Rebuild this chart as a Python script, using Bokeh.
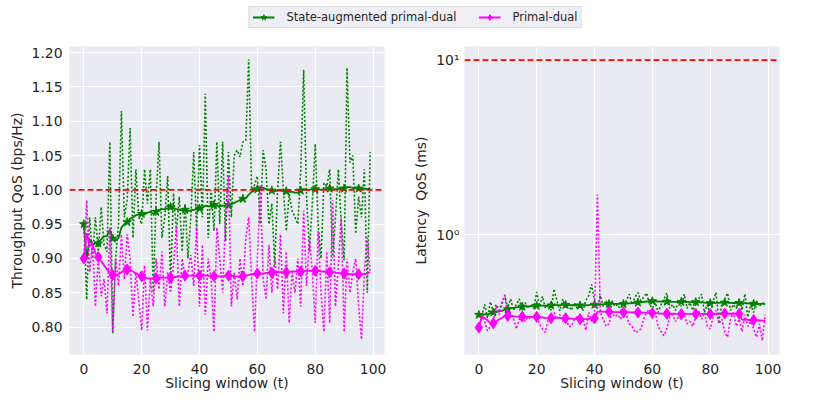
from bokeh.plotting import figure
from bokeh.models import Range1d, FixedTicker, PrintfTickFormatter, Span, Legend, LegendItem
from bokeh.layouts import column, row
from bokeh.embed import file_html
from bokeh.resources import INLINE

# ---------------- data ----------------
t = list(range(100))
marker_t = list(range(0, 100, 5))

thr_sa_raw = [0.95, 0.84, 0.96, 0.90, 0.96, 0.91, 0.975, 0.92, 0.91, 1.07,
              0.79, 0.90, 0.95, 1.115, 0.96, 0.985, 1.09, 0.93, 1.03, 0.96,
              0.95, 1.03, 0.98, 1.03, 0.85, 0.99, 1.07, 0.93, 0.96, 1.02,
              0.865, 0.995, 0.94, 0.99, 0.91, 0.98, 0.90, 0.96, 1.055, 0.94,
              1.065, 0.96, 1.14, 0.93, 1.00, 0.94, 1.07, 0.95, 1.07, 0.925,
              1.055, 0.96, 1.05, 1.058, 1.048, 1.07, 1.072, 1.19, 1.00, 1.007,
              1.02, 0.95, 1.058, 1.03, 0.95, 0.98, 0.89, 1.00, 1.07, 1.00,
              0.94, 0.994, 0.97, 0.96, 0.95, 1.03, 1.175, 0.99, 0.91, 0.98,
              1.067, 0.95, 0.90, 1.01, 1.005, 1.03, 0.90, 0.96, 1.03, 0.95,
              0.897, 1.178, 1.04, 1.05, 0.936, 0.99, 0.96, 1.03, 0.85, 1.055]

thr_sa_avg = [0.950, 0.900, 0.928, 0.920, 0.922, 0.922, 0.928, 0.932, 0.933, 0.942,
              0.929, 0.926, 0.930, 0.945, 0.950, 0.953, 0.958, 0.960, 0.963, 0.964,
              0.965, 0.964, 0.967, 0.968, 0.965, 0.968, 0.971, 0.972, 0.972, 0.973,
              0.975, 0.973, 0.972, 0.971, 0.970, 0.971, 0.969, 0.970, 0.971, 0.972,
              0.973, 0.974, 0.977, 0.976, 0.976, 0.978, 0.977, 0.976, 0.977, 0.977,
              0.978, 0.979, 0.981, 0.983, 0.985, 0.987, 0.988, 0.993, 0.997, 0.999,
              1.001, 1.004, 1.003, 1.001, 1.000, 0.999, 0.998, 0.999, 0.999, 0.998,
              0.998, 0.997, 0.997, 0.996, 0.996, 0.999, 1.001, 1.000, 1.000, 1.001,
              1.001, 1.001, 1.000, 1.001, 1.001, 1.002, 1.001, 1.001, 1.001, 1.002,
              1.002, 1.004, 1.004, 1.003, 1.002, 1.002, 1.002, 1.002, 1.001, 1.002]

thr_pd_raw = [0.900, 0.985, 0.880, 0.925, 0.830, 0.900, 0.845, 0.870, 0.820, 0.945,
              0.793, 0.900, 0.860, 0.935, 0.870, 0.935, 0.900, 0.815, 0.880, 0.840,
              0.795, 0.890, 0.795, 0.870, 0.830, 0.900, 0.855, 0.910, 0.830, 0.880,
              0.850, 0.890, 0.945, 0.830, 0.900, 0.870, 0.880, 0.905, 0.860, 0.945,
              0.830, 0.920, 0.818, 0.900, 0.870, 0.793, 0.945, 0.900, 0.850, 0.960,
              1.020, 0.830, 0.880, 0.840, 0.900, 0.860, 0.930, 0.960, 0.870, 0.793,
              0.900, 1.006, 0.870, 0.840, 0.920, 0.850, 0.900, 0.855, 0.935, 0.820,
              0.910, 0.806, 0.880, 0.850, 0.900, 0.830, 0.970, 0.860, 0.930, 0.880,
              0.806, 0.940, 0.850, 0.793, 0.910, 0.806, 0.985, 0.830, 0.890, 0.960,
              0.793, 0.900, 0.850, 0.880, 0.900, 0.830, 0.782, 0.880, 0.930, 0.880]

thr_pd_avg = [0.900, 0.937, 0.918, 0.921, 0.908, 0.902, 0.896, 0.890, 0.884, 0.879,
              0.876, 0.876, 0.877, 0.880, 0.883, 0.884, 0.883, 0.881, 0.878, 0.876,
              0.874, 0.873, 0.871, 0.871, 0.871, 0.871, 0.872, 0.872, 0.872, 0.872,
              0.872, 0.873, 0.873, 0.874, 0.874, 0.875, 0.875, 0.875, 0.875, 0.875,
              0.875, 0.875, 0.875, 0.875, 0.874, 0.874, 0.874, 0.874, 0.874, 0.875,
              0.875, 0.875, 0.874, 0.874, 0.874, 0.874, 0.875, 0.876, 0.877, 0.877,
              0.878, 0.878, 0.878, 0.879, 0.879, 0.879, 0.879, 0.880, 0.880, 0.880,
              0.880, 0.880, 0.881, 0.881, 0.881, 0.881, 0.881, 0.882, 0.882, 0.882,
              0.882, 0.882, 0.881, 0.881, 0.880, 0.880, 0.880, 0.879, 0.879, 0.878,
              0.878, 0.878, 0.877, 0.877, 0.877, 0.877, 0.877, 0.877, 0.878, 0.880]

lat_sa_raw = [0.35, 0.34, 0.40, 0.335, 0.415, 0.36, 0.40, 0.37, 0.41, 0.45,
              0.38, 0.43, 0.37, 0.40, 0.43, 0.37, 0.41, 0.38, 0.40, 0.38,
              0.47, 0.39, 0.445, 0.38, 0.40, 0.37, 0.49, 0.42, 0.368, 0.43,
              0.38, 0.40, 0.37, 0.41, 0.38, 0.40, 0.37, 0.42, 0.45, 0.52,
              0.42, 0.38, 0.45, 0.39, 0.42, 0.38, 0.42, 0.39, 0.40, 0.37,
              0.37, 0.42, 0.458, 0.40, 0.44, 0.468, 0.42, 0.44, 0.465, 0.40,
              0.38, 0.41, 0.36, 0.40, 0.43, 0.465, 0.38, 0.40, 0.37, 0.42,
              0.39, 0.458, 0.38, 0.41, 0.37, 0.40, 0.43, 0.458, 0.36, 0.40,
              0.345, 0.42, 0.468, 0.32, 0.40, 0.43, 0.465, 0.37, 0.40, 0.38,
              0.41, 0.37, 0.46, 0.338, 0.40, 0.36, 0.42, 0.39, 0.41, 0.40]

lat_sa_avg = [0.349, 0.345, 0.352, 0.350, 0.357, 0.360, 0.362, 0.365, 0.368, 0.374,
              0.376, 0.380, 0.383, 0.385, 0.388, 0.389, 0.390, 0.390, 0.391, 0.391,
              0.393, 0.393, 0.394, 0.394, 0.394, 0.395, 0.397, 0.397, 0.397, 0.398,
              0.398, 0.397, 0.396, 0.396, 0.395, 0.395, 0.395, 0.396, 0.397, 0.399,
              0.399, 0.399, 0.400, 0.401, 0.402, 0.403, 0.403, 0.403, 0.403, 0.403,
              0.403, 0.404, 0.406, 0.407, 0.409, 0.410, 0.412, 0.414, 0.416, 0.417,
              0.418, 0.417, 0.416, 0.415, 0.415, 0.415, 0.414, 0.414, 0.414, 0.414,
              0.414, 0.414, 0.414, 0.413, 0.413, 0.413, 0.412, 0.411, 0.410, 0.408,
              0.407, 0.408, 0.409, 0.409, 0.410, 0.410, 0.410, 0.409, 0.408, 0.408,
              0.408, 0.407, 0.407, 0.406, 0.405, 0.404, 0.404, 0.403, 0.403, 0.403]

lat_pd_raw = [0.29, 0.345, 0.32, 0.283, 0.30, 0.32, 0.39, 0.35, 0.40, 0.455,
              0.33, 0.36, 0.331, 0.29, 0.33, 0.35, 0.32, 0.34, 0.33, 0.35,
              0.34, 0.31, 0.29, 0.277, 0.33, 0.35, 0.36, 0.33, 0.35, 0.32,
              0.34, 0.30, 0.30, 0.33, 0.34, 0.31, 0.33, 0.285, 0.36, 0.32,
              0.35, 1.70, 0.36, 0.33, 0.30, 0.31, 0.36, 0.34, 0.35, 0.33,
              0.36, 0.35, 0.31, 0.30, 0.277, 0.28, 0.29, 0.33, 0.36, 0.375,
              0.34, 0.36, 0.30, 0.28, 0.265, 0.29, 0.34, 0.35, 0.32, 0.34,
              0.33, 0.35, 0.31, 0.32, 0.30, 0.34, 0.37, 0.33, 0.36, 0.30,
              0.29, 0.34, 0.37, 0.31, 0.33, 0.28, 0.26, 0.33, 0.36, 0.30,
              0.33, 0.28, 0.35, 0.30, 0.32, 0.29, 0.26, 0.31, 0.248, 0.35]

lat_pd_avg = [0.295, 0.340, 0.335, 0.325, 0.312, 0.312, 0.320, 0.328, 0.335, 0.345,
              0.344, 0.343, 0.342, 0.341, 0.341, 0.341, 0.340, 0.340, 0.340, 0.340,
              0.340, 0.339, 0.337, 0.335, 0.334, 0.334, 0.335, 0.335, 0.335, 0.335,
              0.334, 0.333, 0.332, 0.331, 0.330, 0.330, 0.330, 0.330, 0.331, 0.332,
              0.333, 0.363, 0.364, 0.364, 0.363, 0.363, 0.363, 0.362, 0.362, 0.361,
              0.361, 0.361, 0.361, 0.360, 0.360, 0.360, 0.359, 0.359, 0.358, 0.358,
              0.357, 0.357, 0.356, 0.355, 0.354, 0.354, 0.354, 0.354, 0.353, 0.353,
              0.353, 0.353, 0.353, 0.353, 0.353, 0.353, 0.353, 0.353, 0.353, 0.353,
              0.353, 0.353, 0.354, 0.354, 0.354, 0.355, 0.354, 0.354, 0.354, 0.354,
              0.354, 0.328, 0.327, 0.327, 0.326, 0.326, 0.325, 0.324, 0.323, 0.323]

thr_threshold = 1.0
lat_threshold = 10.0

x_ticks = [0, 20, 40, 60, 80, 100]
thr_ticks = [0.80, 0.85, 0.90, 0.95, 1.00, 1.05, 1.10, 1.15, 1.20]
lat_ticks = [1, 10]
lat_tick_labels = {1: "10\u2070", 10: "10\u00b9"}

series_names = ["State-augmented primal-dual", "Primal-dual"]
GREEN = "#008000"
MAGENTA = "#FF00FF"

FONT = "DejaVu Sans"
TXT = "#262626"


def style(p):
    p.background_fill_color = "#EAEAF2"
    p.border_fill_color = "white"
    p.outline_line_color = None
    for ax in p.axis:
        ax.axis_line_color = None
        ax.major_tick_line_color = None
        ax.minor_tick_line_color = None
        ax.major_tick_out = 0
        ax.major_tick_in = 0
        ax.minor_tick_out = 0
        ax.minor_tick_in = 0
        ax.major_label_text_font = FONT
        ax.major_label_text_font_size = "13.9px"
        ax.major_label_text_color = TXT
        ax.axis_label_text_font = FONT
        ax.axis_label_text_font_size = "13.9px"
        ax.axis_label_text_font_style = "normal"
        ax.axis_label_text_color = TXT
    p.grid.grid_line_color = "white"
    p.grid.grid_line_width = 1.2


def draw(p, y_sa_raw, y_sa_avg, y_pd_raw, y_pd_avg):
    p.line(t, y_sa_raw, line_color=GREEN, line_width=1.6, line_dash="2 2")
    p.line(t, y_sa_avg, line_color=GREEN, line_width=1.8)
    p.scatter(marker_t, [y_sa_avg[i] for i in marker_t], marker="star", size=9,
              fill_color=GREEN, line_color=GREEN)
    p.line(t, y_pd_raw, line_color=MAGENTA, line_width=1.6, line_dash="2 2")
    p.line(t, y_pd_avg, line_color=MAGENTA, line_width=1.8)
    p.scatter(marker_t, [y_pd_avg[i] for i in marker_t], marker="diamond", size=11,
              fill_color=MAGENTA, line_color=MAGENTA)


# ---------------- left: throughput ----------------
p1 = figure(frame_width=315, frame_height=308, output_backend="svg", toolbar_location=None,
            x_range=Range1d(-4.95, 103.95), y_range=Range1d(0.760, 1.209),
            min_border_left=69, min_border_right=24, min_border_top=8, min_border_bottom=50)
style(p1)
xt1 = FixedTicker(ticks=x_ticks)
yt1 = FixedTicker(ticks=thr_ticks)
p1.xaxis.ticker = xt1
p1.xgrid.ticker = xt1
p1.yaxis.ticker = yt1
p1.ygrid.ticker = yt1
p1.yaxis.formatter = PrintfTickFormatter(format="%.2f")
p1.xaxis.axis_label = "Slicing window (t)"
p1.yaxis.axis_label = "Throughput QoS (bps/Hz)"
p1.yaxis.major_label_standoff = 7
p1.xaxis.major_label_standoff = 9
p1.yaxis.axis_label_standoff = 4
p1.xaxis.axis_label_standoff = -2
draw(p1, thr_sa_raw, thr_sa_avg, thr_pd_raw, thr_pd_avg)
p1.add_layout(Span(location=thr_threshold, dimension="width", line_color="red",
                   line_dash="6 3", line_width=1.6))

# ---------------- right: latency ----------------
p2 = figure(frame_width=315, frame_height=308, output_backend="svg", toolbar_location=None,
            x_range=Range1d(-4.95, 103.95), y_range=Range1d(0.207, 11.96), y_axis_type="log",
            min_border_left=56, min_border_right=30, min_border_top=8, min_border_bottom=50)
style(p2)
xt2 = FixedTicker(ticks=x_ticks)
yt2 = FixedTicker(ticks=lat_ticks, minor_ticks=[])
p2.xaxis.ticker = xt2
p2.xgrid.ticker = xt2
p2.yaxis.ticker = yt2
p2.ygrid.ticker = yt2
p2.yaxis.major_label_overrides = lat_tick_labels
p2.xaxis.axis_label = "Slicing window (t)"
p2.yaxis.axis_label = "Latency\u00a0 QoS (ms)"
p2.yaxis.major_label_standoff = 5
p2.xaxis.major_label_standoff = 9
p2.yaxis.axis_label_standoff = 4
p2.xaxis.axis_label_standoff = -2
draw(p2, lat_sa_raw, lat_sa_avg, lat_pd_raw, lat_pd_avg)
p2.add_layout(Span(location=lat_threshold, dimension="width", line_color="red",
                   line_dash="6 3", line_width=1.6))

# ---------------- legend strip ----------------
lf = figure(width=830, height=38, output_backend="svg", toolbar_location=None,
            x_range=Range1d(0, 1), y_range=Range1d(0, 1),
            x_axis_location=None, y_axis_location=None, min_border=0)
lf.grid.visible = False
lf.outline_line_color = None
lf.background_fill_color = "white"
# legend-key renderers, parked outside the visible range
l1 = lf.line([-5, -4], [-5, -4], line_color=GREEN, line_width=1.8)
m1 = lf.scatter([-5], [-5], marker="star", size=7, fill_color=GREEN, line_color=GREEN)
l2 = lf.line([-5, -4], [-5, -4], line_color=MAGENTA, line_width=1.8)
m2 = lf.scatter([-5], [-5], marker="diamond", size=10, fill_color=MAGENTA, line_color=MAGENTA)
legend = Legend(items=[LegendItem(label=series_names[0], renderers=[l1, m1]),
                       LegendItem(label=series_names[1], renderers=[l2, m2])],
                orientation="horizontal", location="top", margin=6,
                padding=3, spacing=22, glyph_width=22, glyph_height=14,
                label_height=14, label_standoff=12,
                label_text_font=FONT, label_text_font_size="11.5px",
                label_text_color=TXT,
                background_fill_color="#EEEEF4", background_fill_alpha=1.0,
                border_line_color="#C8C8C8", border_line_width=1)
lf.add_layout(legend, "center")

layout = column(lf, row(p1, p2))

open("out.html", "w").write(file_html(layout, INLINE))
